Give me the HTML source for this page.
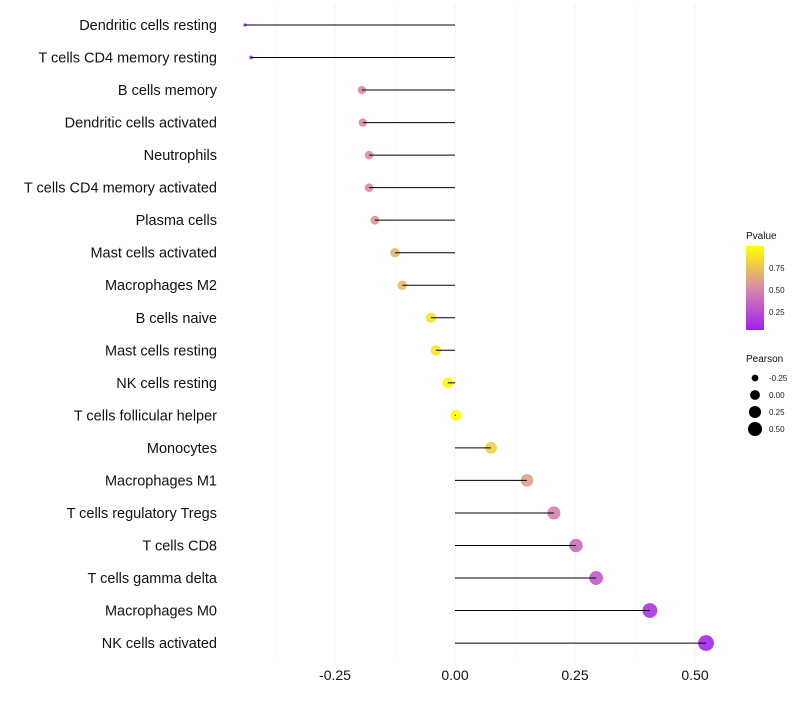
<!DOCTYPE html>
<html><head><meta charset="utf-8"><style>
body{margin:0;background:#fff;font-family:"Liberation Sans",sans-serif}
</style></head><body>
<svg id="chart" width="800" height="700" xmlns="http://www.w3.org/2000/svg" font-family="Liberation Sans, sans-serif">
<defs><linearGradient id="pg" x1="0" y1="1" x2="0" y2="0">
<stop offset="0" stop-color="#a020f0"/><stop offset="0.5" stop-color="#d88aa8"/><stop offset="1" stop-color="#ffff00"/></linearGradient></defs>
<g id="grid"></g><g id="marks"></g><g id="labels"></g><g id="ticks"></g>
<g>
<text x="746" y="239" font-size="10" fill="#111">Pvalue</text>
<rect x="746" y="246" width="18" height="84" fill="url(#pg)"/>
<text x="769" y="271" font-size="8" fill="#222">0.75</text>
<text x="769" y="293" font-size="8" fill="#222">0.50</text>
<text x="769" y="315" font-size="8" fill="#222">0.25</text>
</g>
<g id="slegend">
<text x="746" y="362" font-size="10" fill="#111">Pearson</text>
</g>
</svg>
<script>
const categories=["Dendritic cells resting","T cells CD4 memory resting","B cells memory","Dendritic cells activated","Neutrophils","T cells CD4 memory activated","Plasma cells","Mast cells activated","Macrophages M2","B cells naive","Mast cells resting","NK cells resting","T cells follicular helper","Monocytes","Macrophages M1","T cells regulatory  Tregs ","T cells CD8","T cells gamma delta","Macrophages M0","NK cells activated"];
const pearson=[-0.4375,-0.425,-0.194,-0.192,-0.179,-0.179,-0.167,-0.125,-0.110,-0.05,-0.040,-0.015,0.002,0.075,0.15,0.206,0.252,0.294,0.406,0.523];
const pvalue=[0.01,0.02,0.5,0.5,0.52,0.52,0.54,0.68,0.7,0.88,0.9,0.96,0.99,0.8,0.6,0.46,0.36,0.28,0.1,0.04];
const tickValues=[-0.25,0,0.25,0.5];
const tickLabels=["-0.25","0.00","0.25","0.50"];
const minorTicks=[-0.375,-0.125,0.125,0.375];
const legendSizes=[-0.25,0,0.25,0.5];
const legendLabels=["-0.25","0.00","0.25","0.50"];
const NS="http://www.w3.org/2000/svg";
const x=v=>455+480*v;
const y=i=>25+i*32.53;
const r=v=>Math.sqrt(Math.max(1,2.5+62*(v+0.44)));
function lerp(a,b,t){return a.map((c,k)=>Math.round(c+(b[k]-c)*t));}
function col(p){const A=[160,32,240],B=[216,138,168],C=[255,255,0];
 const c=p<0.5?lerp(A,B,p/0.5):lerp(B,C,(p-0.5)/0.5);return `rgb(${c})`;}
function mk(t,a,parent){const e=document.createElementNS(NS,t);for(const k in a)e.setAttribute(k,a[k]);document.getElementById(parent).appendChild(e);return e;}
minorTicks.forEach(v=>{const l=mk('line',{x1:x(v),x2:x(v),y1:5,y2:662,stroke:'#f5f5f5','stroke-width':0.6},'grid');

});
tickValues.forEach((v,i)=>{const l=mk('line',{x1:x(v),x2:x(v),y1:5,y2:662,stroke:'#f0f0f0','stroke-width':1},'grid');


const t=mk('text',{x:x(v),y:680,'font-size':14,'text-anchor':'middle',fill:'#111'},'ticks');t.textContent=tickLabels[i];

});
categories.forEach((c,i)=>{
 const t=mk('text',{x:217,y:y(i)+5,'font-size':14.5,'text-anchor':'end',fill:'#111'},'labels');t.textContent=c;
 
 
 const ci=mk('circle',{cx:x(pearson[i]),cy:y(i),r:r(pearson[i]),fill:col(pvalue[i]),'fill-opacity':0.9},'marks');
 
 
 const l=mk('line',{x1:x(0),x2:x(pearson[i]),y1:y(i),y2:y(i),stroke:'#000','stroke-width':1},'marks');
 
 
});
legendSizes.forEach((v,i)=>{const cy=378+i*17;
 const c=mk('circle',{cx:755,cy:cy,r:r(v)*0.9,fill:'#000'},'slegend');
 
 
 const t=mk('text',{x:769,y:cy+3,'font-size':8,fill:'#222'},'slegend');t.textContent=legendLabels[i];
 
 });
</script>
</body></html>
